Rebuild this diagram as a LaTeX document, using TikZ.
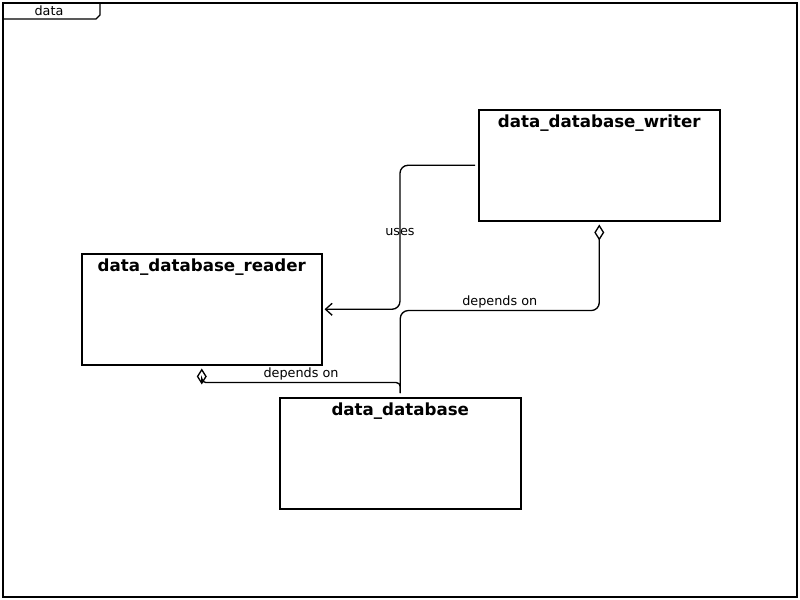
\documentclass[tikz,border=0pt]{standalone}
\usepackage{fontspec}
\setmainfont{DejaVu Sans}
\usetikzlibrary{arrows.meta, positioning}
\tikzset{
	pkgframe/.style={draw=black, line width=1pt},
	umlclass/.style={rectangle, draw=black, line width=1.15pt, minimum width=180.75pt, minimum height=83.25pt, anchor=north west, inner sep=0pt},
	classtitle/.style={font=\bfseries\fontsize{12.5pt}{14pt}\selectfont, anchor=north, yshift=-1.2pt},
	edgelabel/.style={font=\fontsize{9.6pt}{11pt}\selectfont, inner sep=1pt},
	usesarrow/.style={-{Straight Barb[length=5pt, width=9pt]}, line width=1pt, rounded corners=6pt, shorten <=2.2pt, shorten >=1.5pt},
	aggrarrow/.style={{Diamond[open, length=12pt, width=7.5pt, line width=1pt]}-, line width=1pt, rounded corners=6pt, shorten <=2.2pt, shorten >=3pt},
}
\begin{document}
\begin{tikzpicture}[x=0.75pt, y=-0.75pt]
	\useasboundingbox (0,0) rectangle (800,600);
	% package frame with tab
	\draw[pkgframe] (3,3) rectangle (797,597);
	\draw[pkgframe] (3,19) -- (96,19) -- (100,15) -- (100,3);
	\node[edgelabel] (pkgname) at (49,11) {data};
	% classes
	\node[umlclass, label={[classtitle]north:data\_database\_writer}] (writer) at (478,109) {};
	\node[umlclass, label={[classtitle]north:data\_database\_reader}, minimum width=180pt] (reader) at (81,253) {};
	\node[umlclass, label={[classtitle]north:data\_database}] (database) at (279,397) {};
	% relations
	\draw[usesarrow] (writer.west) -- ++(-78,0) |- node[edgelabel, pos=0.23] {uses} (reader.east);
	\draw[aggrarrow] (writer.south) -- ++(0,89) -| node[edgelabel, pos=0.25, above] {depends on} (database.north);
	\draw[aggrarrow, rounded corners=3pt] (reader.south) -- ++(0,17) -| node[edgelabel, pos=0.25, above] {depends on} (database.north);
\end{tikzpicture}
\end{document}
